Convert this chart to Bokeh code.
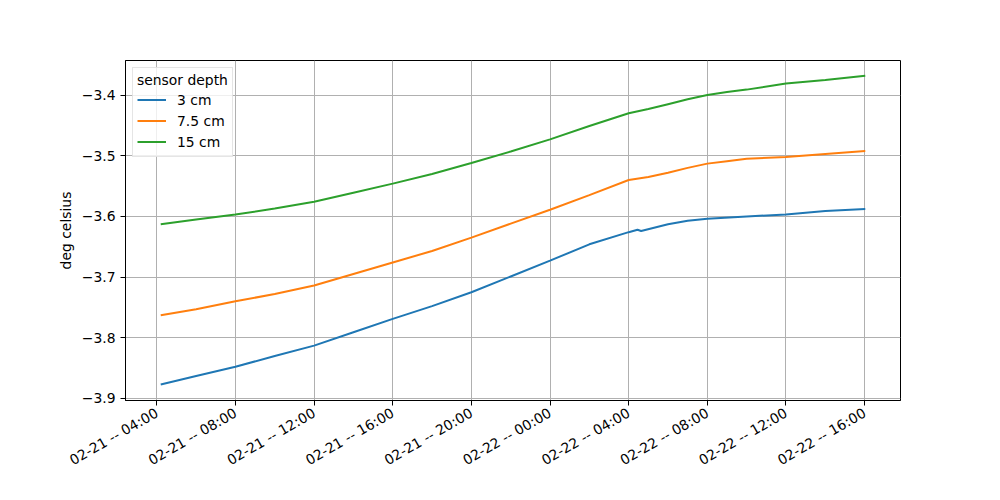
import math
import pandas as pd
from bokeh.plotting import figure
from bokeh.models import Range1d, FixedTicker, DatetimeTickFormatter, Legend, LegendItem
from bokeh.embed import file_html
from bokeh.resources import INLINE

# ---- data ----
times = [
    "2023-02-21 04:12", "2023-02-21 06:00", "2023-02-21 08:00", "2023-02-21 10:00",
    "2023-02-21 12:00", "2023-02-21 14:00", "2023-02-21 16:00", "2023-02-21 18:00",
    "2023-02-21 20:00", "2023-02-21 22:00", "2023-02-22 00:00", "2023-02-22 02:00",
    "2023-02-22 04:00", "2023-02-22 05:00", "2023-02-22 06:00", "2023-02-22 07:00",
    "2023-02-22 08:00", "2023-02-22 09:00", "2023-02-22 10:00",
    "2023-02-22 12:00", "2023-02-22 14:00", "2023-02-22 16:02",
]
blue_times = [
    "2023-02-21 04:12", "2023-02-21 06:00", "2023-02-21 08:00", "2023-02-21 10:00",
    "2023-02-21 12:00", "2023-02-21 14:00", "2023-02-21 16:00", "2023-02-21 18:00",
    "2023-02-21 20:00", "2023-02-21 22:00", "2023-02-22 00:00", "2023-02-22 02:00",
    "2023-02-22 04:00", "2023-02-22 04:27", "2023-02-22 04:38", "2023-02-22 06:00",
    "2023-02-22 07:00", "2023-02-22 08:00", "2023-02-22 10:00", "2023-02-22 12:00",
    "2023-02-22 14:00", "2023-02-22 16:02",
]
temp_3cm = [
    -3.877, -3.863, -3.848, -3.830, -3.813, -3.791, -3.769, -3.748,
    -3.725, -3.699, -3.673, -3.646, -3.626, -3.622, -3.624, -3.613,
    -3.607, -3.604, -3.600, -3.597, -3.591, -3.588,
]
temp_7_5cm = [
    -3.763, -3.753, -3.740, -3.728, -3.714, -3.695, -3.676, -3.657,
    -3.635, -3.612, -3.589, -3.565, -3.540, -3.535, -3.528, -3.520,
    -3.513, -3.509, -3.505, -3.502, -3.497, -3.492,
]
temp_15cm = [
    -3.613, -3.605, -3.597, -3.587, -3.576, -3.561, -3.546, -3.530,
    -3.512, -3.493, -3.473, -3.451, -3.430, -3.423, -3.415, -3.407,
    -3.400, -3.395, -3.391, -3.381, -3.375, -3.368,
]
series_labels = ["3 cm", "7.5 cm", "15 cm"]
series_colors = ["#1f77b4", "#ff7f0e", "#2ca02c"]

x_ticks = [
    "2023-02-21 04:00", "2023-02-21 08:00", "2023-02-21 12:00", "2023-02-21 16:00",
    "2023-02-21 20:00", "2023-02-22 00:00", "2023-02-22 04:00", "2023-02-22 08:00",
    "2023-02-22 12:00", "2023-02-22 16:00",
]
y_ticks = [-3.9, -3.8, -3.7, -3.6, -3.5, -3.4]
y_tick_labels = ["\u22123.9", "\u22123.8", "\u22123.7", "\u22123.6", "\u22123.5", "\u22123.4"]

# ---- figure ----
t = pd.to_datetime(times)
tb = pd.to_datetime(blue_times)
xt = pd.to_datetime(x_ticks)
span = t[-1] - t[0]
x_start = t[0] - span * 0.05
x_end = t[-1] + span * 0.05

p = figure(
    width=992, height=492,
    frame_width=775, frame_height=340,
    min_border_left=125, min_border_right=92, min_border_top=60, min_border_bottom=92,
    x_axis_type="datetime",
    x_range=Range1d(x_start, x_end),
    y_range=Range1d(-3.9035, -3.343),
    output_backend="svg", toolbar_location=None,
)
p.outline_line_color = "black"
p.outline_line_width = 1
p.outline_line_alpha = 1

r1 = p.line(tb, temp_3cm, line_color=series_colors[0], line_width=2)
r2 = p.line(t, temp_7_5cm, line_color=series_colors[1], line_width=2)
r3 = p.line(t, temp_15cm, line_color=series_colors[2], line_width=2)

# axes
fmt = "%m-%d -- %H:%M"
p.xaxis.ticker = FixedTicker(ticks=[x.value / 1e6 for x in xt])
p.xaxis.formatter = DatetimeTickFormatter(
    microseconds=fmt, milliseconds=fmt, seconds=fmt, minsec=fmt, minutes=fmt,
    hourmin=fmt, hours=fmt, days=fmt, months=fmt, years=fmt,
)
p.xaxis.major_label_orientation = math.pi / 6
p.yaxis.ticker = FixedTicker(ticks=y_ticks)
p.yaxis.major_label_overrides = {v: s for v, s in zip(y_ticks, y_tick_labels)}
p.yaxis.axis_label = "deg celsius"

for ax in (p.xaxis, p.yaxis):
    ax.axis_line_color = "black"
    ax.major_tick_line_color = "black"
    ax.major_tick_out = 5
    ax.major_tick_in = 0
    ax.minor_tick_line_color = None
    ax.major_label_text_font = "DejaVu Sans"
    ax.major_label_text_font_size = "13.9px"
    ax.major_label_text_color = "black"
    ax.axis_label_text_font = "DejaVu Sans"
    ax.axis_label_text_font_size = "13.9px"
    ax.axis_label_text_font_style = "normal"
    ax.axis_label_text_color = "black"
p.yaxis.axis_label_standoff = 5
p.xaxis.major_label_standoff = 6

p.grid.grid_line_color = "#b0b0b0"
p.grid.grid_line_width = 1
p.xgrid.ticker = p.xaxis.ticker
p.ygrid.ticker = p.yaxis.ticker

legend = Legend(
    items=[
        LegendItem(label=series_labels[0], renderers=[r1]),
        LegendItem(label=series_labels[1], renderers=[r2]),
        LegendItem(label=series_labels[2], renderers=[r3]),
    ],
    location="top_left",
    title="sensor depth",
)
legend.title_text_font = "DejaVu Sans"
legend.title_text_font_size = "13.9px"
legend.title_text_font_style = "normal"
legend.title_text_color = "black"
legend.title_standoff = 1
legend.label_text_font = "DejaVu Sans"
legend.label_text_font_size = "13.9px"
legend.label_text_color = "black"
legend.label_height = 21
legend.glyph_height = 21
legend.glyph_width = 29
legend.label_standoff = 11
legend.spacing = 0
legend.padding = 4
legend.margin = 7
legend.border_line_color = "#cccccc"
legend.border_line_width = 1
legend.background_fill_alpha = 0.8
p.add_layout(legend)

open("out.html", "w").write(file_html(p, INLINE))
